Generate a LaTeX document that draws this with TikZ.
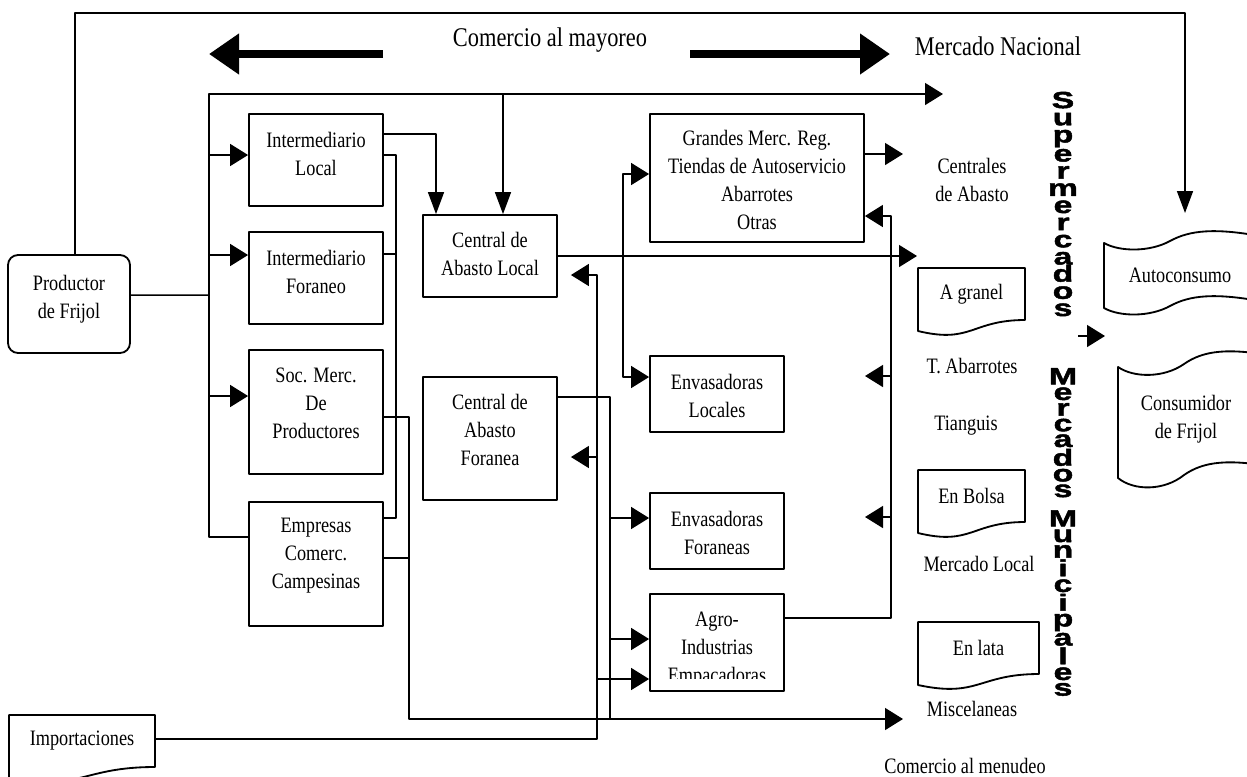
\documentclass[tikz,border=0pt]{standalone}
\usepackage{fontspec}
\setmainfont{Liberation Serif}[FakeStretch=0.83]
\newfontfamily\vertfont{Liberation Sans}[FakeStretch=1.45,FakeBold=2]
\usetikzlibrary{arrows.meta,fit}

\begin{document}
\begin{tikzpicture}[x=0.6pt,y=-0.6pt,line join=round,line width=0.9pt,
  every node/.style={inner sep=0pt},
  box/.style={draw,line width=1.1pt,inner sep=0pt},
  txt/.style={align=center,font=\fontsize{13.2}{16.8}\selectfont},
  title/.style={font=\fontsize{16.2}{19}\selectfont},
  vert/.style={align=center,font=\vertfont\bfseries\fontsize{14}{#1}\selectfont},
  harr/.style={-{Triangle[length=10.8pt,width=13.2pt]}},
  varr/.style={-{Triangle[length=13.2pt,width=9.6pt]}},
  dbl/.style={{Triangle[length=10.8pt,width=13.2pt]}-{Triangle[length=10.8pt,width=13.2pt]}},
  big/.style={line width=4.8pt,line cap=butt,-{Triangle[length=18pt,width=23.4pt]}}]
  \useasboundingbox (0,0) rectangle (1247,776);
  \clip (0,0) rectangle (1247,776);

  % cajas
  \node[box,rounded corners=6pt,fit={(8,255) (130,353)}] (prod) {};
  \node[txt] (prod-t) at (69,299) {Productor\\de Frijol};
  \foreach \nm/\xa/\ya/\xb/\yb/\ty/\txt in {%
    il/249/114/383/206/154/{Intermediario\\Local},%
    ifo/249/232/383/324/272/{Intermediario\\Foraneo},%
    soc/249/350/383/474/403/{Soc. Merc.\\De\\Productores},%
    emp/249/502/383/626/556/{Empresas\\Comerc.\\Campesinas},%
    cal/423/215/557/297/254/{Central de\\Abasto Local},%
    caf/423/377/557/500/430/{Central de\\Abasto\\Foranea},%
    gm/650/114/864/242/180/{Grandes Merc. Reg.\\Tiendas de Autoservicio\\Abarrotes\\Otras},%
    envl/650/356/784/432/396/{Envasadoras\\Locales},%
    envf/650/493/784/569/533/{Envasadoras\\Foraneas}%
  } {
    \node[box,fit={(\xa,\ya) (\xb,\yb)}] (\nm) {};
    \node[txt] (\nm-t) at ({(\xa+\xb)/2},\ty) {\txt};
  }
  \node[box,fit={(650,594) (784,691)}] (agro) {};
  \begin{scope}
    \clip (650,594) rectangle (784,678);
    \node[txt] (agro-t) at (717,650) {Agro-\\Industrias\\Empacadoras};
  \end{scope}

  % documentos
  \foreach \nm/\x/\y/\w/\txt in {gra/918/268/107/A granel,bol/918/470/107/En Bolsa,%
    lat/918/622/121/En lata,imp/9/715/146/Importaciones} {
    \draw[line width=1.1pt] (\x,\y) -- ({\x+\w},\y) -- ({\x+\w},{\y+52})
      .. controls ({\x+\w/2},{\y+52}) and ({\x+\w/2},{\y+76}) .. (\x,{\y+63}) -- cycle;
    \node[txt] (\nm) at ({\x+\w/2},{\y+26}) {\txt};
    \coordinate (\nm-e) at ({\x+\w},{\y+24});
  }

  % cintas
  \draw[line width=1.1pt] (1104,243) .. controls (1120,252) and (1150,252) .. (1170,241)
    .. controls (1190,230) and (1215,228) .. (1260,236) -- (1260,301)
    .. controls (1215,293) and (1190,295) .. (1170,306)
    .. controls (1150,317) and (1120,317) .. (1104,308) -- cycle;
  \node[txt] (auto) at (1180,275) {Autoconsumo};
  \draw[line width=1.1pt] (1118,367) .. controls (1134,378) and (1164,378) .. (1184,364)
    .. controls (1204,350) and (1229,348) .. (1274,356) -- (1274,467)
    .. controls (1229,459) and (1204,461) .. (1184,475)
    .. controls (1164,491) and (1134,491) .. (1118,478) -- cycle;
  \node[txt] (cons) at (1186,419) {Consumidor\\de Frijol};

  % textos
  \node[title] (may) at (550,40) {Comercio al mayoreo};
  \node[title] (nac) at (998,46) {Mercado Nacional};
  \node[txt] (cent) at (972,180) {Centrales\\de Abasto};
  \node[txt] (tab) at (972,366) {T. Abarrotes};
  \node[txt] (tia) at (966,426) {Tianguis};
  \node[txt] (mloc) at (979,564) {Mercado Local};
  \node[txt] (misc) at (972,709) {Miscelaneas};
  \node[txt] (menu) at (965,766) {Comercio al menudeo};
  \node[vert=10.3pt] (super) at (1063,204)
    {S\\u\\p\\e\\r\\m\\e\\r\\c\\a\\d\\o\\s};
  \node[vert=9.4pt] (muni) at (1063,532)
    {M\\e\\r\\c\\a\\d\\o\\s\\[6.8pt]M\\u\\n\\i\\c\\i\\p\\a\\l\\e\\s};

  % puntos libres
  \coordinate (natl-in) at (943,94);
  \coordinate (cent-in) at (903,154);
  \coordinate (gra-in) at (917,256);
  \coordinate (misc-in) at (903,719);
  \coordinate (auto-in) at (1185,213);
  \coordinate (ta-out) at (865,376);
  \coordinate (eb-out) at (865,517);
  \coordinate (sm-a) at (1078,336);
  \coordinate (sm-b) at (1105,336);
  \coordinate (ml-a) at (383,54);
  \coordinate (ml-b) at (209,54);
  \coordinate (mr-a) at (690,54);
  \coordinate (mr-b) at (890,54);

  % flechas gruesas
  \draw[big] (ml-a) -- (ml-b);
  \draw[big] (mr-a) -- (mr-b);

  % productor
  \draw[varr] ([xshift=3.6pt]prod.north) |- (1185,13) -- (auto-in);
  \draw ([yshift=5.4pt]prod.east) -- (209,295);
  \draw[harr] (emp.west |- 0,537) -| (209,94) -- (natl-in);
  \foreach \b/\y in {il/155,ifo/255,soc/396}
    \draw[harr] (209,\y) -- (\b.west |- 0,\y);

  % intermediarios
  \draw[varr] (il.east |- 0,134) -| (cal.north -| 436,0);
  \draw[varr] (503,94) -- (cal.north -| 503,0);
  \draw (il.east |- 0,155) -| (396,518) -- (emp.east |- 0,518);
  \draw (ifo.east |- 0,254) -- (396,254);
  \draw[harr] (soc.east |- 0,417) -| (409,719) -- (misc-in);
  \draw (emp.east |- 0,558) -- (409,558);

  % centrales
  \draw[harr] (cal.east) -- (gra-in);
  \draw[harr,shorten >=7.8pt] (imp-e) -| (597,275) -- (cal.east |- 0,275);
  \draw[harr,shorten >=7.8pt] (597,457) -- (caf.east |- 0,457);
  \draw[harr] (597,679) -- (agro.west |- 0,679);
  \draw (caf.east |- 0,397) -| (610,719);
  \draw[harr] (610,518) -- (envf.west |- 0,518);
  \draw[harr] (610,639) -- (agro.west |- 0,639);
  \draw[dbl] (gm.west |- 0,174) -| (623,377) -- (envl.west |- 0,377);

  % lado derecho
  \draw[harr] (gm.east |- 0,154) -- (cent-in);
  \draw[harr] (agro.east |- 0,618) -| (891,216) -- (gm.east |- 0,216);
  \draw[harr] (891,376) -- (ta-out);
  \draw[harr] (891,517) -- (eb-out);
  \draw[harr] (sm-a) -- (sm-b);
\end{tikzpicture}
\end{document}
